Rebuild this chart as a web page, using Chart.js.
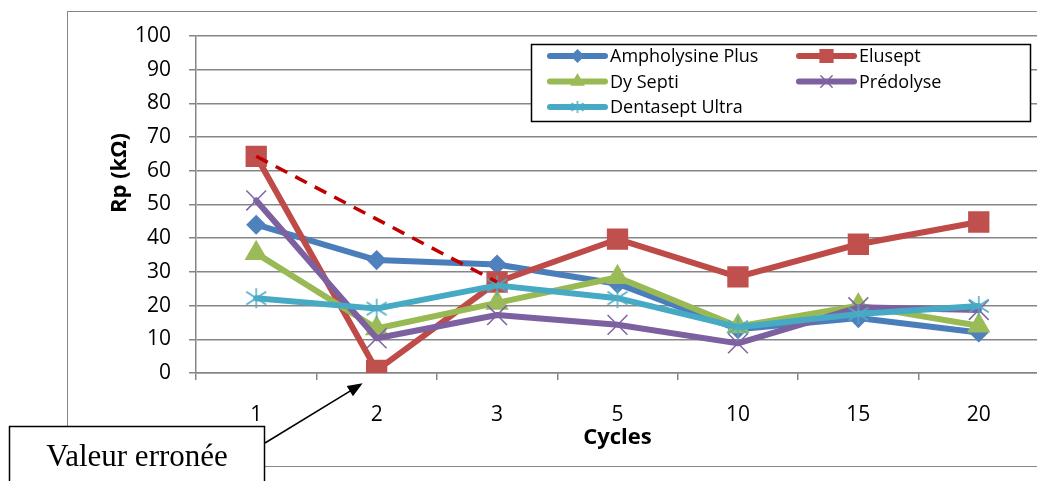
<!DOCTYPE html>
<html>
<head>
<meta charset="utf-8">
<script src="https://cdn.jsdelivr.net/npm/chart.js@4"></script>
<style>
html, body { margin: 0; padding: 0; background: #fff; overflow: hidden; }
#wrap { position: absolute; left: 0; top: 0; width: 1060px; height: 481px; }
</style>
</head>
<body>
<div id="wrap"><canvas id="chartRp" width="1060" height="481"></canvas></div>
<script>
// valeurs
var cycles = ['1', '2', '3', '5', '10', '15', '20'];
var ampholysinePlus = [44, 33.5, 32.2, 26.5, 13, 16.3, 12];
var elusept = [64.3, 0.8, 27, 39.7, 28.5, 38.2, 44.8];
var dySepti = [35.5, 13.2, 20.8, 28.4, 13.8, 20, 14];
var predolyse = [51.2, 10.3, 17.2, 14.3, 8.8, 19.5, 18.7];
var dentaseptUltra = [22.2, 19.1, 26, 22.2, 13.6, 17.5, 19.9];
// trait pointille : Elusept sans la valeur erronee du cycle 2
var eluseptCorrige = [64.3, null, 27, null, null, null, null];
var yMin = 0, yMax = 100, yStep = 10;

Chart.defaults.font.family = "'Open Sans', sans-serif";

// marqueur etoile facon Excel
function makeStar(half, color) {
    var c = document.createElement('canvas');
    c.width = half * 2 + 4;
    c.height = half * 2 + 4;
    var g = c.getContext('2d');
    var m = half + 2;
    g.strokeStyle = color;
    g.lineWidth = 1.5;
    g.beginPath();
    g.moveTo(m, m - half); g.lineTo(m, m + half);
    g.moveTo(m - half, m - half * 0.65); g.lineTo(m + half, m + half * 0.65);
    g.moveTo(m - half, m + half * 0.65); g.lineTo(m + half, m - half * 0.65);
    g.stroke();
    return c;
}
var starBig = makeStar(10, '#4BACC6');
var starSmall = makeStar(6, '#4BACC6');

function serie(label, data, line, fill, style, radius, order, legendStyle, legendRadius) {
    return {
        label: label,
        data: data,
        borderColor: line,
        backgroundColor: fill,
        pointBackgroundColor: fill,
        pointBorderColor: fill,
        pointStyle: style,
        pointRadius: radius,
        pointHoverRadius: radius,
        pointBorderWidth: 1.5,
        borderWidth: 6,
        tension: 0,
        borderJoinStyle: 'round',
        borderCapStyle: 'round',
        order: order,
        legendStyle: legendStyle,
        legendRadius: legendRadius
    };
}

var datasets = [
    serie('Ampholysine Plus', ampholysinePlus, '#4A7EBB', '#4F81BD', 'rectRot', 9, 4, 'rectRot', 6),
    serie('Elusept', elusept, '#BE4B48', '#C0504D', 'rect', 14, 3, 'rect', 9),
    serie('Dy Septi', dySepti, '#98B954', '#9BBB59', 'triangle', 12, 2, 'triangle', 7),
    serie('Prédolyse', predolyse, '#7D60A0', '#8064A2', 'crossRot', 14, 1, 'crossRot', 8),
    serie('Dentasept Ultra', dentaseptUltra, '#46AAC5', '#4BACC6', starBig, 10, 0, starSmall, 6),
    {
        label: '',
        data: eluseptCorrige,
        borderColor: '#C00000',
        borderWidth: 3.5,
        borderDash: [13, 9],
        pointRadius: 0,
        spanGaps: true,
        order: -1,
        skipLegend: true
    }
];

var decor = {
    id: 'decor',
    beforeDraw: function(chart) {
        var ctx = chart.ctx;
        ctx.save();
        ctx.fillStyle = '#fff';
        ctx.fillRect(0, 0, chart.width, chart.height);
        ctx.strokeStyle = '#868686';
        ctx.lineWidth = 1;
        ctx.strokeRect(67.5, 11.5, 2000, 455);
        ctx.restore();
    },
    afterDraw: function(chart) {
        var ctx = chart.ctx;
        var xs = chart.scales.x;
        ctx.save();

        // titres des axes
        ctx.fillStyle = '#000';
        ctx.font = "bold 22px 'Open Sans', sans-serif";
        ctx.textAlign = 'center';
        ctx.textBaseline = 'middle';
        ctx.fillText('Cycles', (xs.left + xs.right) / 2, 438);
        ctx.save();
        ctx.translate(120, 173);
        ctx.rotate(-Math.PI / 2);
        ctx.fillText('Rp (kΩ)', 0, 0);
        ctx.restore();

        // legende
        ctx.fillStyle = '#fff';
        ctx.fillRect(531, 44, 499, 77);
        ctx.strokeStyle = '#000';
        ctx.lineWidth = 1.5;
        ctx.strokeRect(531.5, 44.5, 499, 77);
        ctx.font = "18px 'Open Sans', sans-serif";
        ctx.textAlign = 'left';
        var n = 0;
        chart.data.datasets.forEach(function(ds) {
            if (ds.skipLegend) return;
            var col = n % 2, row = Math.floor(n / 2);
            var x0 = col === 0 ? 550 : 799;
            var y = 56 + row * 25.5;
            ctx.strokeStyle = ds.borderColor;
            ctx.lineWidth = 6;
            ctx.lineCap = 'round';
            ctx.beginPath();
            ctx.moveTo(x0, y);
            ctx.lineTo(x0 + 55, y);
            ctx.stroke();
            ctx.fillStyle = ds.pointBackgroundColor;
            ctx.strokeStyle = ds.pointBorderColor;
            ctx.lineWidth = 1.5;
            Chart.helpers.drawPoint(ctx, { pointStyle: ds.legendStyle, radius: ds.legendRadius, borderWidth: 1.5, rotation: 0 }, x0 + 27.5, y);
            ctx.fillStyle = '#000';
            ctx.textBaseline = 'middle';
            ctx.fillText(ds.label, x0 + 60, y + 1);
            n++;
        });

        // fleche vers la valeur erronee
        var p = chart.getDatasetMeta(1).data[1];
        var tx = p.x - 14, ty = p.y + 13;
        var sx = 265, sy = 443;
        var ang = Math.atan2(ty - sy, tx - sx);
        ctx.strokeStyle = '#000';
        ctx.fillStyle = '#000';
        ctx.lineWidth = 1.5;
        ctx.lineCap = 'butt';
        ctx.beginPath();
        ctx.moveTo(sx, sy);
        ctx.lineTo(tx - 10 * Math.cos(ang), ty - 10 * Math.sin(ang));
        ctx.stroke();
        ctx.beginPath();
        ctx.moveTo(tx, ty);
        ctx.lineTo(tx - 15 * Math.cos(ang) + 6 * Math.sin(ang), ty - 15 * Math.sin(ang) - 6 * Math.cos(ang));
        ctx.lineTo(tx - 15 * Math.cos(ang) - 6 * Math.sin(ang), ty - 15 * Math.sin(ang) + 6 * Math.cos(ang));
        ctx.closePath();
        ctx.fill();

        // encadre
        ctx.fillStyle = '#fff';
        ctx.fillRect(9, 426, 255, 70);
        ctx.strokeStyle = '#000';
        ctx.lineWidth = 1.5;
        ctx.strokeRect(9.5, 426.5, 255, 70);
        ctx.fillStyle = '#000';
        ctx.font = "31px 'Liberation Serif', serif";
        ctx.textAlign = 'center';
        ctx.textBaseline = 'alphabetic';
        ctx.fillText('Valeur erronée', 137, 466);
        ctx.restore();
    }
};

var chartRp = new Chart(document.getElementById('chartRp'), {
    type: 'line',
    data: {
        labels: cycles,
        datasets: datasets
    },
    options: {
        responsive: false,
        animation: false,
        layout: { padding: { left: 0, top: 36, right: 21, bottom: 0 } },
        plugins: {
            legend: { display: false },
            tooltip: { enabled: false }
        },
        scales: {
            x: {
                offset: true,
                grid: { offset: true, drawOnChartArea: false, tickLength: 7, color: '#868686', lineWidth: 1.5 },
                border: { color: '#868686', width: 1.5 },
                ticks: { color: '#000', padding: 22, font: { size: 21 }, maxRotation: 0 },
                afterFit: function(scale) { scale.height = 108; }
            },
            y: {
                min: yMin,
                max: yMax,
                ticks: { stepSize: yStep, color: '#000', padding: 18, font: { size: 21 } },
                grid: { color: '#868686', lineWidth: 1.5, tickLength: 7 },
                border: { color: '#868686', width: 1.5 },
                afterFit: function(scale) { scale.width = 196; }
            }
        }
    },
    plugins: [decor]
});
</script>
</body>
</html>
